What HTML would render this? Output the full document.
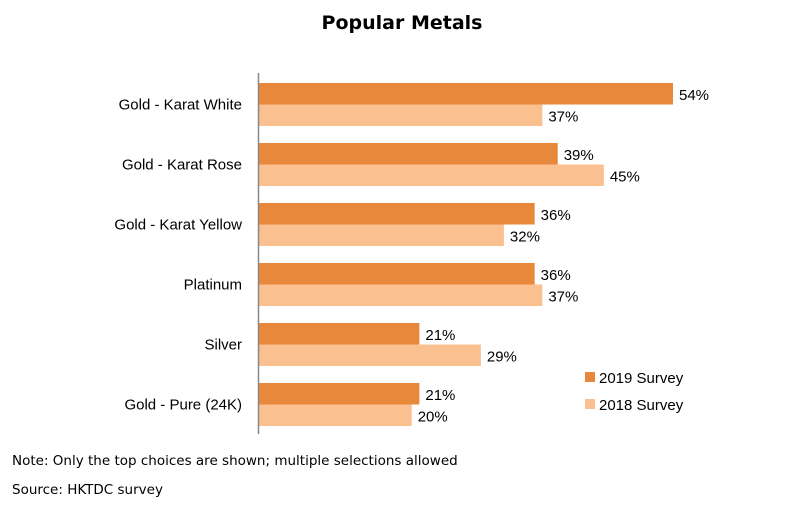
<!DOCTYPE html>
<html><head><meta charset="utf-8"><style>
body{margin:0;background:#fff;}
svg{display:block;}
</style></head><body>
<svg width="800" height="509" viewBox="0 0 800 509" xmlns="http://www.w3.org/2000/svg">
<rect width="800" height="509" fill="#fff"/>
<text x="402" y="29" text-anchor="middle" font-family="DejaVu Sans, sans-serif" font-weight="bold" font-size="19" fill="#000">Popular Metals</text>
<g id="bars"></g>
<line x1="258.5" y1="73" x2="258.5" y2="434" stroke="#888" stroke-width="1.5"/>
<rect x="585" y="372" width="10" height="10" fill="#E8883A"/>
<text x="599" y="383" font-family="Liberation Sans, sans-serif" font-size="15">2019 Survey</text>
<rect x="585" y="399" width="10" height="10" fill="#FAC090"/>
<text x="599" y="410" font-family="Liberation Sans, sans-serif" font-size="15">2018 Survey</text>
<text x="12" y="465" font-family="DejaVu Sans, sans-serif" font-size="13.5">Note: Only the top choices are shown; multiple selections allowed</text>
<text x="12" y="494" font-family="DejaVu Sans, sans-serif" font-size="13.5">Source: HKTDC survey</text>
</svg>
<script>
const categories = ["Gold - Karat White","Gold - Karat Rose","Gold - Karat Yellow","Platinum","Silver","Gold - Pure (24K)"];
const values2019 = [54,39,36,36,21,21];
const values2018 = [37,45,32,37,29,20];
const NS="http://www.w3.org/2000/svg";
const x0=258, pxPer=7.685, top0=83, pitch=60, bh=21.5;
function xScale(v){return x0+v*pxPer;}
function yBand(i){return top0+i*pitch;}
const g=document.getElementById('bars');
function mk(tag,attrs){const e=document.createElementNS(NS,tag);for(const k in attrs)e.setAttribute(k,attrs[k]);g.appendChild(e);return e;}
categories.forEach((c,i)=>{
  const y=yBand(i);
  const lab=mk('text',{x:242,y:y+bh+5,'text-anchor':'end','font-family':'Liberation Sans, sans-serif','font-size':15});
  lab.textContent=c;
  
  
  [[values2019,'#E8883A',0,'2019'],[values2018,'#FAC090',bh,'2018']].forEach(([arr,col,off,yr])=>{
    const v=arr[i];
    const r=mk('rect',{x:x0,y:y+off,width:xScale(v)-x0,height:bh,fill:col});
    
    
    const t=mk('text',{x:xScale(v)+6,y:y+off+bh/2+6,'font-family':'Liberation Sans, sans-serif','font-size':15});
    t.textContent=v+'%';
    
    
  });
});
</script>
</body></html>
